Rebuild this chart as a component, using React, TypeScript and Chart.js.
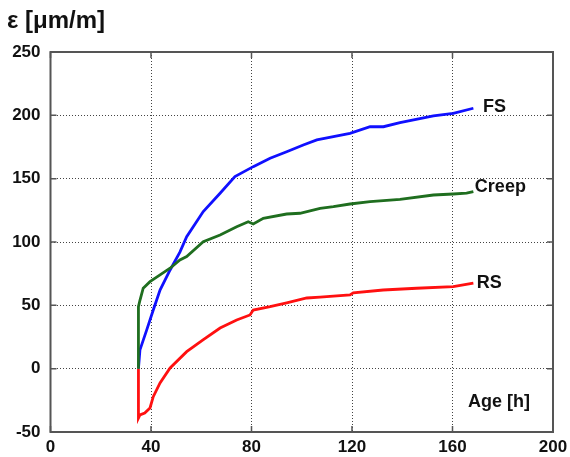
import React, { useEffect, useRef } from "react";
import { Chart, registerables } from "chart.js";

Chart.register(...registerables);

// ---- data ----
const fsAge = [35, 35.6, 38.3, 40.9, 43.6, 47.6, 51.5, 54.2, 60.8, 67.5, 73.4, 80.7, 87.4, 94, 100.6, 106, 112.6, 119.2, 127.2, 132.5, 139.1, 152.4, 160.3, 168.3];
const fsStrain = [0, 14.8, 30.6, 46.3, 62.1, 77.9, 92, 104.2, 124, 138.5, 151.6, 159.5, 166.1, 171.3, 176.6, 180.6, 183.2, 185.8, 191, 191, 194.2, 199.5, 201.6, 205.6];

const creepAge = [35, 35, 35.6, 36.9, 39.6, 43.6, 47.6, 51.5, 54.2, 60.8, 67.5, 74.1, 78.7, 80.7, 84.7, 94, 99.3, 107.3, 112.6, 119.2, 127.2, 139.1, 152.4, 160.3, 165.6, 168.3];
const creepStrain = [0, 49, 54, 63.5, 68.7, 74, 79.3, 85.8, 88.5, 100.3, 105.5, 112.1, 116, 114.2, 118.7, 122.1, 122.7, 126.6, 127.9, 130, 131.8, 133.7, 137.1, 137.9, 138.5, 139.7];

const rsAge = [35, 35, 35.6, 37.5, 39.6, 40.9, 43.6, 47.6, 54.2, 60.7, 67.5, 74.1, 79.4, 80.7, 87.4, 94, 102, 107.3, 119.2, 120.5, 132.4, 145.7, 160.3, 168.3];
const rsStrain = [0, -39, -36.5, -35, -31, -22.1, -11.3, 0.6, 13.4, 22.7, 32.1, 38.4, 42.4, 46.3, 48.9, 51.9, 55.8, 56.4, 58.2, 59.8, 62.1, 63.5, 64.7, 67.6];

const seriesNames = ["Creep", "RS", "FS"];
const seriesColors = ["#1f6e1f", "#ff1010", "#1010ff"];

const xMin = 0;
const xMax = 200;
const xStep = 40;
const yMin = -50;
const yMax = 250;
const yStep = 50;

const yTitle = "ε [μm/m]";
const xTitle = "Age [h]";
// annotation anchors in data units (left, baseline)
const labelTexts = ["FS", "Creep", "RS", xTitle];
const labelAges = [172.1, 168.9, 169.7, 166.2];
const labelStrains = [202.7, 139.5, 63.7, -30.2];

const FONT = '"Liberation Sans", Arial, Helvetica, sans-serif';

function pts(xs: number[], ys: number[]) {
  return xs.map((x, i) => ({ x, y: ys[i] }));
}

const overlayPlugin = {
  id: "overlay",
  afterDraw(chart: any) {
    const { ctx, chartArea: a, scales } = chart;
    const xs = scales.x;
    const ys = scales.y;
    ctx.save();
    // frame
    ctx.strokeStyle = "#555";
    ctx.lineWidth = 2;
    ctx.setLineDash([]);
    ctx.strokeRect(a.left, a.top, a.right - a.left, a.bottom - a.top);
    // inward tick marks
    ctx.lineWidth = 1.5;
    const tl = 6;
    xs.ticks.forEach((t: any) => {
      const px = xs.getPixelForValue(t.value);
      ctx.beginPath();
      ctx.moveTo(px, a.bottom);
      ctx.lineTo(px, a.bottom - tl);
      ctx.moveTo(px, a.top);
      ctx.lineTo(px, a.top + tl);
      ctx.stroke();
    });
    ys.ticks.forEach((t: any) => {
      const py = ys.getPixelForValue(t.value);
      ctx.beginPath();
      ctx.moveTo(a.left, py);
      ctx.lineTo(a.left + tl, py);
      ctx.moveTo(a.right, py);
      ctx.lineTo(a.right - tl, py);
      ctx.stroke();
    });
    // labels
    ctx.fillStyle = "#111";
    ctx.textAlign = "left";
    ctx.textBaseline = "alphabetic";
    ctx.font = `bold 18px ${FONT}`;
    labelTexts.forEach((txt, i) => {
      ctx.fillText(txt, xs.getPixelForValue(labelAges[i]), ys.getPixelForValue(labelStrains[i]));
    });
    ctx.font = `bold 24px ${FONT}`;
    ctx.fillText(yTitle, 7, 28);
    ctx.restore();
  },
};

export default function App() {
  const ref = useRef<HTMLCanvasElement>(null);
  useEffect(() => {
    if (!ref.current) return;
    const data = [pts(creepAge, creepStrain), pts(rsAge, rsStrain), pts(fsAge, fsStrain)];
    const chart = new Chart(ref.current, {
      type: "line",
      data: {
        datasets: seriesNames.map((name, i) => ({
          label: name,
          data: data[i],
          borderColor: seriesColors[i],
          backgroundColor: seriesColors[i],
          borderWidth: 2.8,
          pointRadius: 0,
          tension: 0,
          fill: false,
        })),
      },
      options: {
        responsive: false,
        animation: false,
        layout: { padding: { top: 52, right: 17, bottom: 0, left: 0 } },
        plugins: { legend: { display: false }, tooltip: { enabled: false }, title: { display: false } },
        scales: {
          x: {
            type: "linear",
            min: xMin,
            max: xMax,
            afterFit: (s: any) => { s.height = 25; s.paddingLeft = 0; s.paddingRight = 0; },
            ticks: { stepSize: xStep, color: "#111", font: { family: FONT, size: 17, weight: "bold" }, padding: 5, maxRotation: 0 },
            grid: { color: "#444", lineWidth: 1, drawTicks: false },
            border: { display: false, dash: [1, 2] },
          },
          y: {
            type: "linear",
            min: yMin,
            max: yMax,
            afterFit: (s: any) => { s.width = 50.5; s.paddingTop = 0; s.paddingBottom = 0; },
            ticks: { stepSize: yStep, color: "#111", font: { family: FONT, size: 17, weight: "bold" }, padding: 10 },
            grid: { color: "#444", lineWidth: 1, drawTicks: false },
            border: { display: false, dash: [1, 2] },
          },
        },
      },
      plugins: [overlayPlugin],
    });
    return () => chart.destroy();
  }, []);
  return (
    <div style={{ position: "absolute", left: 0, top: 0, width: 570, height: 457, background: "#fff" }}>
      <canvas ref={ref} width={570} height={457} />
    </div>
  );
}
